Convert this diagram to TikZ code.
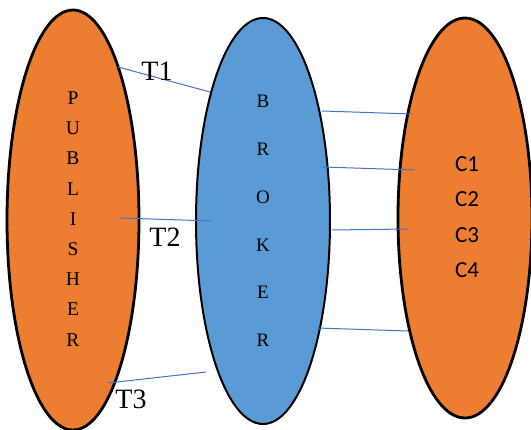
\documentclass[tikz,border=0pt]{standalone}
\usepackage{fontspec}
\setmainfont{Liberation Serif}
\newfontfamily\calib{Carlito}
\usetikzlibrary{shapes.geometric}
\definecolor{pubOrange}{HTML}{ED7D31}
\definecolor{brokerBlue}{HTML}{5B9BD5}
\definecolor{linkBlue}{HTML}{4472C4}
\tikzset{
  party/.style={ellipse, draw=black, inner sep=0pt},
  link/.style={draw=linkBlue, line width=1pt},
  stack/.style={align=center, inner sep=0pt},
  tlabel/.style={font=\fontsize{28}{28}\selectfont, inner sep=0pt}
}
\begin{document}
\begin{tikzpicture}[x=1pt, y=-1pt]
  \useasboundingbox (0,0) rectangle (531,430);

  % the three parties
  \node[party, fill=pubOrange, line width=2.8pt, minimum width=132pt, minimum height=420pt] (pub) at (73,220) {};
  \node[party, fill=brokerBlue, line width=2pt, minimum width=134pt, minimum height=406pt] (brk) at (263,221) {};
  \node[party, fill=pubOrange, line width=2.8pt, minimum width=134pt, minimum height=400pt] (cons) at (465,218) {};

  % vertical captions
  \node[stack, font=\fontsize{19.5}{30.2}\selectfont] (pubtxt) at (73,219) {P\\U\\B\\L\\I\\S\\H\\E\\R};
  \node[stack, font=\fontsize{19}{47.8}\selectfont] (brktxt) at (263,221) {B\\R\\O\\K\\E\\R};
  \node[stack, font=\calib\fontsize{23}{35.5}\selectfont] (constxt) at (467,217) {C1\\C2\\C3\\C4};

  % publisher to broker topics
  \coordinate (p1) at (118,67);  \coordinate (b1) at (210,92);
  \coordinate (p2) at (120,218); \coordinate (b2) at (212,221);
  \coordinate (p3) at (108,383); \coordinate (b3) at (206,372);
  \draw[link] (p1) -- (b1);
  \draw[link] (p2) -- (b2);
  \draw[link] (p3) -- (b3);
  \node[tlabel] (t1) at (157,71) {T1};
  \node[tlabel] (t2) at (165,237) {T2};
  \node[tlabel] (t3) at (131,399) {T3};

  % broker to consumer deliveries
  \coordinate (r1) at (322,111); \coordinate (c1) at (412,114);
  \coordinate (r2) at (323,167); \coordinate (c2) at (414,170);
  \coordinate (r3) at (332,230); \coordinate (c3) at (408,229);
  \coordinate (r4) at (317,328); \coordinate (c4) at (408,331);
  \draw[link] (r1) -- (c1);
  \draw[link] (r2) -- (c2);
  \draw[link] (r3) -- (c3);
  \draw[link] (r4) -- (c4);
\end{tikzpicture}
\end{document}
